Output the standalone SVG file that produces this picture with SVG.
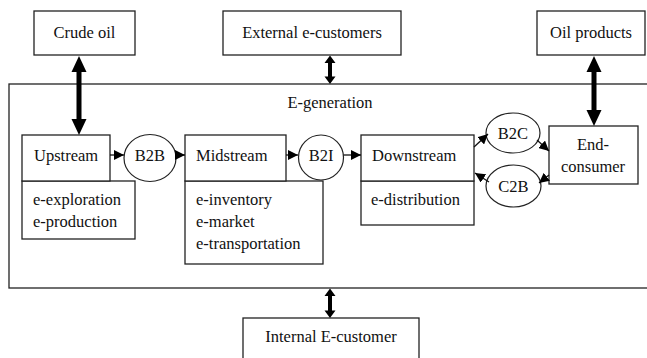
<svg xmlns="http://www.w3.org/2000/svg" width="647" height="358" viewBox="0 0 647 358">
<style>
.box{fill:#fff;stroke:#222;stroke-width:1.3}
.frame{fill:none;stroke:#222;stroke-width:1.3}
.ell{fill:#fff;stroke:#222;stroke-width:1.2}
.c{text-anchor:middle}
.thin{stroke:#111;stroke-width:1.3;fill:none;marker-end:url(#ah)}
.fat{fill:#000;stroke:none}
</style>
<defs>
<marker id="ah" markerUnits="userSpaceOnUse" markerWidth="10" markerHeight="10" viewBox="0 0 10 10" refX="10" refY="5" orient="auto">
<path d="M0,0 L10,5 L0,10 Z" fill="#000"/>
</marker>
</defs>
<rect width="647" height="358" fill="#fff"/>
<g font-family="'Liberation Serif', 'Times New Roman', serif" font-size="16.5" fill="#111">
<g id="e-generation">
<rect class="frame" x="9" y="84" width="645" height="204"/>
<text class="c" x="330" y="108">E-generation</text>
</g>
<g id="crude-oil">
<rect class="box" x="34" y="11" width="101" height="44"/>
<text class="c" x="84.5" y="38">Crude oil</text>
</g>
<g id="external">
<rect class="box" x="223" y="11" width="178" height="44"/>
<text class="c" x="312" y="38">External e-customers</text>
</g>
<g id="oil-products">
<rect class="box" x="537" y="11" width="108" height="44"/>
<text class="c" x="591" y="38">Oil products</text>
</g>
<g id="internal">
<rect class="box" x="243" y="318" width="176" height="50"/>
<text class="c" x="331" y="342">Internal E-customer</text>
</g>
<g id="upstream">
<rect class="box" x="22" y="181" width="113" height="58"/>
<rect class="box" x="22" y="135" width="88" height="46"/>
<text x="34" y="161">Upstream</text>
<text x="33" y="205">e-exploration</text>
<text x="33" y="227">e-production</text>
</g>
<g id="midstream">
<rect class="box" x="185" y="181" width="138" height="83"/>
<rect class="box" x="185" y="135" width="101" height="46"/>
<text x="196" y="161">Midstream</text>
<text x="196" y="205">e-inventory</text>
<text x="196" y="227">e-market</text>
<text x="196" y="249">e-transportation</text>
</g>
<g id="downstream">
<rect class="box" x="361" y="181" width="113" height="44"/>
<rect class="box" x="361" y="135" width="113" height="46"/>
<text x="372" y="161">Downstream</text>
<text x="371" y="205">e-distribution</text>
</g>
<g id="end-consumer">
<rect class="box" x="549" y="126" width="89" height="58"/>
<text class="c" x="593" y="150">End-</text>
<text class="c" x="593" y="172">consumer</text>
</g>
<g id="b2b">
<ellipse class="ell" cx="150" cy="158" rx="26" ry="23.5"/>
<text class="c" x="150" y="161">B2B</text>
</g>
<g id="b2i">
<ellipse class="ell" cx="321" cy="157.5" rx="22.5" ry="22.5"/>
<text class="c" x="321" y="161">B2I</text>
</g>
<g id="b2c">
<ellipse class="ell" cx="513" cy="133" rx="27" ry="20"/>
<text class="c" x="513" y="139">B2C</text>
</g>
<g id="c2b">
<ellipse class="ell" cx="513.5" cy="186" rx="27.5" ry="21"/>
<text class="c" x="513.5" y="192">C2B</text>
</g>
</g>
<g id="connectors">
<path class="fat" d="M79,56 L86.5,72 L81.5,72 L81.5,119 L86.5,119 L79,135 L71.5,119 L76.5,119 L76.5,72 L71.5,72 Z"/>
<path class="fat" d="M594,56 L601.5,72 L596.5,72 L596.5,110 L601.5,110 L594,126 L586.5,110 L591.5,110 L591.5,72 L586.5,72 Z"/>
<path class="fat" d="M330,55.5 L335.5,63 L332,63 L332,76.5 L335.5,76.5 L330,84 L324.5,76.5 L328,76.5 L328,63 L324.5,63 Z"/>
<path class="fat" d="M330,288.5 L335.5,296 L332,296 L332,310.5 L335.5,310.5 L330,318 L324.5,310.5 L328,310.5 L328,296 L324.5,296 Z"/>
<line class="thin" x1="110" y1="155" x2="124" y2="155"/>
<line class="thin" x1="176" y1="155" x2="185" y2="155"/>
<line class="thin" x1="286" y1="155" x2="298" y2="155"/>
<line class="thin" x1="343.5" y1="155" x2="361" y2="155"/>
<line class="thin" x1="474" y1="147" x2="488" y2="134"/>
<line class="thin" x1="537" y1="140" x2="549" y2="151"/>
<line class="thin" x1="549" y1="175" x2="539" y2="183"/>
<line class="thin" x1="489" y1="182" x2="475" y2="173"/>
</g>
</svg>
